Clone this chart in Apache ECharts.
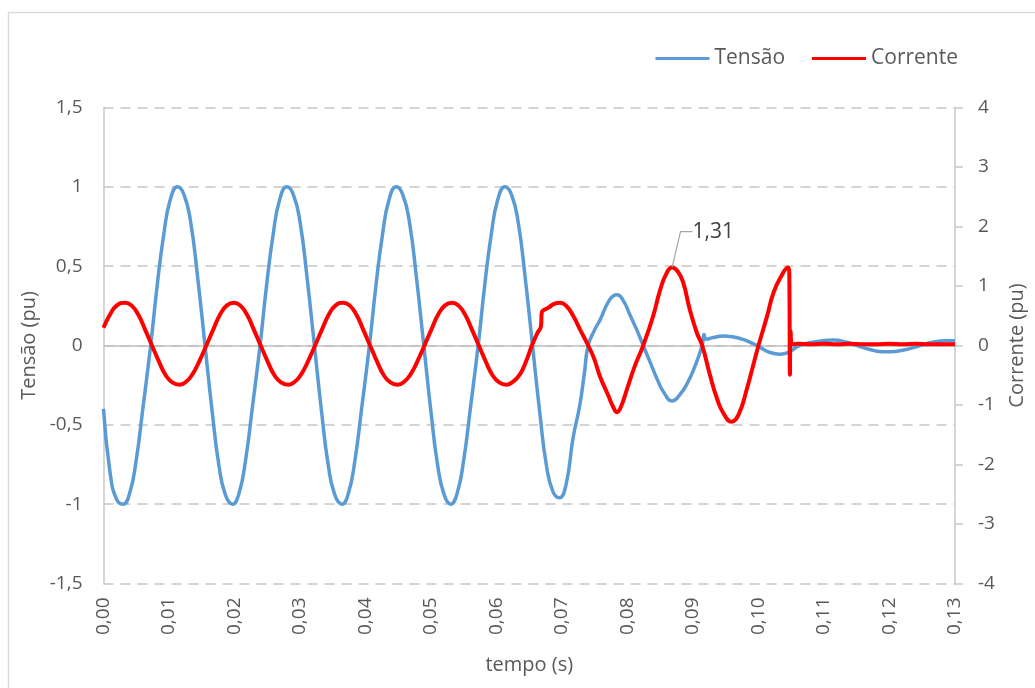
<!DOCTYPE html>
<html>
<head>
<meta charset="utf-8">
<script src="https://cdn.jsdelivr.net/npm/echarts@6/dist/echarts.min.js"></script>
<style>
html,body{margin:0;padding:0;background:#fff;overflow:hidden;}
#chart{width:1035px;height:688px;}
</style>
</head>
<body>
<div id="chart"></div>
<script>
// ---- Data ----
var seriesNames = ['Tensão', 'Corrente'];
var xTicks = [0,0.01,0.02,0.03,0.04,0.05,0.06,0.07,0.08,0.09,0.10,0.11,0.12,0.13];
var leftTicks = [-1.5,-1,-0.5,0,0.5,1,1.5];
var rightTicks = [-4,-3,-2,-1,0,1,2,3,4];

// Tensão (pu) : [tempo (s), valor]
var tensao = [
[0.0000,-0.40],[0.0010,-0.80],[0.0020,-0.97],
[0.0030,-1.00],[0.0040,-0.93],[0.0050,-0.72],[0.0060,-0.40],[0.0072,0.00],[0.0082,0.38],[0.0092,0.70],[0.0102,0.92],
[0.0113,1.00],[0.0123,0.95],[0.0133,0.78],[0.0144,0.42],[0.0155,0.00],[0.0166,-0.42],[0.0176,-0.75],[0.0186,-0.94],
[0.0197,-1.00],[0.0207,-0.93],[0.0217,-0.72],[0.0227,-0.40],[0.0239,0.00],[0.0249,0.38],[0.0259,0.70],[0.0269,0.92],
[0.0280,1.00],[0.0290,0.95],[0.0300,0.78],[0.0311,0.42],[0.0322,0.00],[0.0333,-0.42],[0.0343,-0.75],[0.0353,-0.94],
[0.0364,-1.00],[0.0374,-0.93],[0.0384,-0.72],[0.0394,-0.40],[0.0406,0.00],[0.0416,0.38],[0.0426,0.70],[0.0436,0.92],
[0.0447,1.00],[0.0457,0.95],[0.0467,0.78],[0.0478,0.42],[0.0489,0.00],[0.0500,-0.42],[0.0510,-0.75],[0.0520,-0.94],
[0.0530,-1.00],[0.0540,-0.93],[0.0550,-0.72],[0.0560,-0.40],[0.0572,0.00],[0.0582,0.38],[0.0592,0.70],[0.0602,0.92],
[0.0613,1.00],[0.0623,0.95],[0.0633,0.78],[0.0644,0.42],[0.0655,0.00],[0.0666,-0.42],[0.0676,-0.75],[0.0686,-0.92],
[0.0696,-0.96],[0.0706,-0.88],[0.0717,-0.58],[0.0727,-0.38],[0.0734,-0.18],[0.0740,0.00],[0.0750,0.10],[0.0758,0.16],
[0.0773,0.29],[0.0784,0.32],[0.0794,0.28],[0.0804,0.19],[0.0814,0.10],[0.0824,0.00],[0.0835,-0.11],[0.0845,-0.21],
[0.0856,-0.30],[0.0868,-0.35],[0.0880,-0.31],[0.0891,-0.24],[0.0903,-0.13],[0.0914,0.00],[0.0917,0.07],[0.0920,0.04],
[0.0931,0.05],[0.0946,0.06],[0.0960,0.055],[0.0975,0.04],[0.0990,0.015],[0.1002,-0.01],[0.1015,-0.04],[0.1033,-0.055],
[0.1045,-0.045],[0.1058,-0.01],[0.1070,0.01],[0.1090,0.025],[0.1114,0.035],[0.1135,0.02],[0.1150,0.00],[0.1170,-0.025],
[0.1190,-0.04],[0.1201,-0.04],[0.1220,-0.03],[0.1247,0.00],[0.1265,0.02],[0.1287,0.03],[0.1300,0.03]
];

// Corrente (pu) : [tempo (s), valor]
var corrente = [
[0.0000,0.30],[0.0010,0.52],[0.0020,0.67],
[0.0033,0.72],[0.0043,0.67],[0.0053,0.52],[0.0063,0.28],[0.0074,0.00],[0.0085,-0.28],[0.0095,-0.50],[0.0105,-0.62],
[0.0116,-0.66],[0.0126,-0.61],[0.0136,-0.48],[0.0146,-0.27],[0.0157,0.00],[0.0168,0.28],[0.0178,0.52],[0.0188,0.67],
[0.0199,0.72],[0.0209,0.67],[0.0219,0.52],[0.0229,0.28],[0.0240,0.00],[0.0251,-0.28],[0.0261,-0.50],[0.0271,-0.62],
[0.0282,-0.66],[0.0292,-0.61],[0.0302,-0.48],[0.0312,-0.27],[0.0323,0.00],[0.0334,0.28],[0.0344,0.52],[0.0354,0.67],
[0.0366,0.72],[0.0376,0.67],[0.0386,0.52],[0.0396,0.28],[0.0407,0.00],[0.0418,-0.28],[0.0428,-0.50],[0.0438,-0.62],
[0.0449,-0.66],[0.0459,-0.61],[0.0469,-0.48],[0.0479,-0.27],[0.0490,0.00],[0.0501,0.28],[0.0511,0.52],[0.0521,0.67],
[0.0532,0.72],[0.0542,0.67],[0.0552,0.52],[0.0562,0.28],[0.0573,0.00],[0.0584,-0.28],[0.0594,-0.50],[0.0604,-0.62],
[0.0615,-0.66],[0.0625,-0.61],[0.0636,-0.48],[0.0645,-0.27],[0.0654,0.00],[0.0662,0.20],[0.0668,0.33],[0.0669,0.55],
[0.0680,0.64],[0.0688,0.70],[0.0697,0.72],[0.0707,0.66],[0.0717,0.50],[0.0728,0.26],[0.0740,0.00],[0.0749,-0.22],
[0.0758,-0.52],[0.0771,-0.85],[0.0778,-1.03],[0.0784,-1.12],[0.0790,-1.03],[0.0799,-0.74],[0.0811,-0.35],[0.0824,0.00],
[0.0839,0.49],[0.0850,0.94],[0.0859,1.20],[0.0868,1.31],[0.0877,1.24],[0.0885,1.06],[0.0895,0.61],[0.0906,0.21],
[0.0914,0.00],[0.0926,-0.50],[0.0936,-0.87],[0.0946,-1.13],[0.0959,-1.28],[0.0970,-1.15],[0.0982,-0.74],[0.0991,-0.37],
[0.1000,0.00],[0.1013,0.49],[0.1023,0.89],[0.1035,1.17],[0.1045,1.31],[0.1047,1.22],[0.1048,-0.49],[0.1049,0.25],
[0.1051,0.02],[0.1060,0.03],[0.1080,0.02],[0.1100,0.03],[0.1120,0.02],[0.1140,0.03],[0.1160,0.02],[0.1180,0.02],
[0.1200,0.03],[0.1220,0.02],[0.1240,0.03],[0.1260,0.02],[0.1280,0.02],[0.1300,0.02]
];
var annotatedPeak = [0.0868, 1.31];
var annotatedText = '1,31';

// ---- Chart ----
var FONT = '"Open Sans", "Noto Sans", sans-serif';
var TXT = '#595959';
function comma(v){ return String(v).replace('.', ','); }

var currentData = corrente.map(function(p){
  if (p[0] === annotatedPeak[0] && p[1] === annotatedPeak[1]) {
    return {
      value: p,
      symbol: 'circle', symbolSize: 1,
      itemStyle: {color: 'rgba(255,0,0,0)', borderWidth: 0},
      label: {show: true, formatter: annotatedText, position: 'right', distance: 4,
              color: '#404040', fontSize: 21, fontFamily: FONT},
      labelLine: {show: true, length2: 12, lineStyle: {color: '#a6a6a6', width: 1.2}}
    };
  }
  return p;
});

var chart = echarts.init(document.getElementById('chart'), null, {renderer: 'canvas'});
chart.setOption({
  backgroundColor: '#ffffff',
  animation: false,
  textStyle: {fontFamily: FONT},
  graphic: [{
    type: 'rect', silent: true, z: -10,
    shape: {x: 8.5, y: 12.5, width: 1100, height: 760},
    style: {fill: 'none', stroke: '#d9d9d9', lineWidth: 1.5}
  }],
  legend: {
    data: seriesNames,
    right: 72, top: 43,
    itemWidth: 54, itemHeight: 14, itemGap: 27,
    textStyle: {color: TXT, fontSize: 21, fontFamily: FONT},
    icon: 'path://M0,6 L54,6 L54,9 L0,9 Z'
  },
  grid: {left: 103.5, right: 80, top: 107.5, bottom: 104.5, containLabel: false, outerBoundsMode: 'none'},
  xAxis: {
    type: 'value', min: xTicks[0], max: xTicks[xTicks.length-1], interval: 0.01,
    name: 'tempo (s)', nameLocation: 'middle', nameGap: 72,
    nameTextStyle: {color: TXT, fontSize: 20, fontFamily: FONT},
    axisLine: {show: false},
    axisTick: {show: false},
    splitLine: {show: false},
    axisLabel: {
      rotate: 90, margin: 14, color: TXT, fontSize: 19, fontFamily: FONT,
      formatter: function(v){ return v.toFixed(2).replace('.', ','); }
    }
  },
  yAxis: [{
    type: 'value', position: 'left',
    min: leftTicks[0], max: leftTicks[leftTicks.length-1], interval: 0.5,
    name: 'Tensão (pu)', nameLocation: 'middle', nameGap: 63,
    nameTextStyle: {color: TXT, fontSize: 20, fontFamily: FONT},
    axisLine: {show: true, lineStyle: {color: '#c8c8c8', width: 1.5}},
    axisTick: {show: false},
    axisLabel: {color: TXT, fontSize: 19, fontFamily: FONT, margin: 21, formatter: comma},
    splitLine: {show: true, lineStyle: {color: '#d4d4d4', width: 2, type: [10, 7]}}
  }, {
    type: 'value', position: 'right',
    min: rightTicks[0], max: rightTicks[rightTicks.length-1], interval: 1,
    name: 'Corrente (pu)', nameLocation: 'middle', nameGap: 52,
    nameTextStyle: {color: TXT, fontSize: 20, fontFamily: FONT},
    axisLine: {show: true, lineStyle: {color: '#c8c8c8', width: 1.5}},
    axisTick: {show: true, inside: false, length: 8, lineStyle: {color: '#c8c8c8', width: 1.5}},
    axisLabel: {color: TXT, fontSize: 19, fontFamily: FONT, margin: 23, formatter: comma},
    splitLine: {show: false}
  }],
  series: [{
    name: seriesNames[0], type: 'line', yAxisIndex: 0,
    data: tensao, showSymbol: false, symbol: 'none',
    smooth: 0.5,
    lineStyle: {color: '#5b9bd5', width: 3.5},
    itemStyle: {color: '#5b9bd5'},
    z: 2,
    markLine: {
      silent: true, symbol: ['none','none'], label: {show: false},
      lineStyle: {color: '#bfbfbf', width: 1.5, type: 'solid'},
      data: [{yAxis: 0}], z: 1
    }
  }, {
    name: seriesNames[1], type: 'line', yAxisIndex: 1,
    data: currentData, showSymbol: true, showAllSymbol: true, symbol: 'none',
    smooth: 0.5,
    lineStyle: {color: '#ff0000', width: 4},
    itemStyle: {color: '#ff0000'},
    labelLayout: {dx: 16, dy: -36},
    z: 3
  }]
});
</script>
</body>
</html>
